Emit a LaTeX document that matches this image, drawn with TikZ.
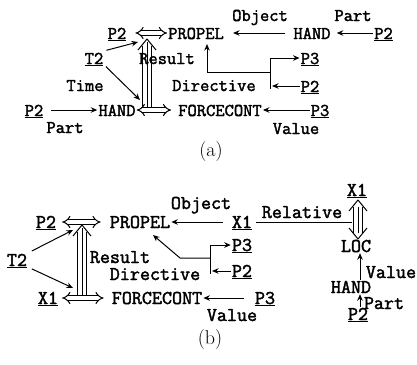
\documentclass[tikz,border=0pt]{standalone}
\usepackage{fontspec}
\newfontfamily\mytyfont{Latin Modern Mono}[FakeBold=2]
\usetikzlibrary{arrows.meta,backgrounds}
% triple-line causal arrow pieces
\newcommand\mytrishaft[4]{% x, y1, y2 (outer lines), y3 (centre line end)
  \draw[ln] (#1-4.5,#2) -- (#1-4.5,#3);
  \draw[ln] (#1+4.5,#2) -- (#1+4.5,#3);
  \draw[ln] (#1,#2) -- (#1,#4);}
\newcommand\mytrihead[3]{% x, ytip, direction (+1: tip points up)
  \draw[ln, line join=round] (#1-9,{#2+(#3)*11}) .. controls (#1-4,{#2+(#3)*5}) .. (#1,#2)
     .. controls (#1+4,{#2+(#3)*5}) .. (#1+9,{#2+(#3)*11});}
\begin{document}
\begin{tikzpicture}[x=1pt,y=-1pt,
 laba/.style={font=\mytyfont\fontsize{18}{20}\selectfont, inner sep=1pt, text height=12pt, text depth=0pt},
 labb/.style={font=\mytyfont\fontsize{19.5}{21}\selectfont, inner sep=1pt, text height=12pt, text depth=0pt},
 capt/.style={font=\fontsize{20}{22}\selectfont, inner sep=1pt},
 arr/.style={line width=1pt, -{Stealth[length=6.5pt,width=5.5pt]}},
 ln/.style={line width=1pt},
 dbl/.style={double, double distance=3.2pt, line width=1pt, {Implies[scale=1.4]}-{Implies[scale=1.4]}},
]
\useasboundingbox (0,0) rectangle (417,364);

% ---------------- (a) ----------------
\node[laba] (pa1) at (117,33) {\underline{P2}};
\node[laba] (propa) at (196,33) {PROPEL};
\node[laba] (obja) at (260,15) {Object};
\node[laba] (handa1) at (312,33) {HAND};
\node[laba] (parta1) at (353,15) {Part};
\node[laba] (pa2) at (383.5,33) {\underline{P2}};
\node[laba] (ta) at (94,58) {\underline{T2}};
\node[laba] (timea) at (85,85) {Time};
\node[laba] (resa) at (167,58) {Result};
\node[laba] (dira) at (214,85) {Directive};
\node[laba] (p3a1) at (310,58) {\underline{P3}};
\node[laba] (pa3) at (310,86) {\underline{P2}};
\node[laba] (pa4) at (34,110) {\underline{P2}};
\node[laba] (handa2) at (117,110) {HAND};
\node[laba] (parta2) at (65,127) {Part};
\node[laba] (forca) at (220,110) {FORCECONT};
\node[laba] (p3a2) at (320,110) {\underline{P3}};
\node[laba] (vala) at (296,128) {Value};
\node[capt] (capa) at (211,152) {(a)};

% ---------------- (b) ----------------
\node[labb] (pb1) at (46,222) {\underline{P2}};
\node[labb] (propb) at (140,222) {PROPEL};
\node[labb] (objb) at (201,203) {Object};
\node[labb] (xb1) at (242,222) {\underline{X1}};
\node[labb] (relb) at (302,212) {Relative};
\node[labb] (xb2) at (357,190) {\underline{X1}};
\node[labb] (locb) at (356,246) {LOC};
\node[labb] (valb) at (391,272) {Value};
\node[labb] (handb) at (351,287) {HAND};
\node[labb] (partb) at (384,303) {Part};
\node[labb] (pb3) at (358,314) {\underline{P2}};
\node[labb] (tb) at (17,260) {\underline{T2}};
\node[labb] (resb) at (120,257) {Result};
\node[labb] (dirb) at (155,274) {Directive};
\node[labb] (p3b1) at (242,245) {\underline{P3}};
\node[labb] (pb2) at (242,271) {\underline{P2}};
\node[labb] (xb3) at (48,298) {\underline{X1}};
\node[labb] (forcb) at (157,298) {FORCECONT};
\node[labb] (p3b2) at (265,298) {\underline{P3}};
\node[labb] (valb2) at (232,315) {Value};
\node[capt] (capb) at (210,340) {(b)};

\coordinate (tat1) at (138,42);
\coordinate (tat2) at (140,100);
\coordinate (da1) at (207,44);
\coordinate (da2) at (207,72);
\coordinate (da3) at (270,72);
\coordinate (da4) at (270,58);
\coordinate (da5) at (270,89);

\coordinate (relend) at (352,222);
\coordinate (tbt1) at (73,230);
\coordinate (tbt2) at (73,288);
\coordinate (db1) at (153,235);
\coordinate (db2) at (180,258);
\coordinate (db3) at (210,258);
\coordinate (db4) at (210,245);
\coordinate (db5) at (210,274);

\begin{scope}[on background layer]
% (a)
\draw[dbl, shorten <=8pt] (pa1.east) -- (propa.west);
\draw[arr, shorten <=7pt, shorten >=8pt] (handa1.west) -- (propa.east);
\draw[arr, shorten >=5pt] (pa2.west) -- (handa1.east);
\draw[arr, shorten <=2pt] (ta.north east) -- (tat1);
\draw[arr, shorten <=2pt] (ta.south east) -- (tat2);
\mytrishaft{147}{107}{46}{42}
\mytrihead{147}{39}{1}
\draw[dbl, shorten >=6pt] (handa2.east) -- (forca.west);
\draw[arr] (da3) -- (da2) -- (da1);
\draw[ln] (da4) -- (da5);
\draw[arr] (da4) -- (p3a1.west);
\draw[arr, shorten >=2pt] (pa3.west) -- (pa3.west -| da5);
\draw[arr] (p3a2.west) -- (forca.east);
\draw[arr, shorten <=7pt] (pa4.east) -- (handa2.west);
% (b)
\draw[dbl, shorten <=5pt, shorten >=8pt] (pb1.east) -- (propb.west);
\draw[arr, shorten <=8pt] (xb1.west) -- (propb.east);
\draw[ln, shorten <=3pt] (xb1.east) -- (relend);
\mytrishaft{358}{207}{233}{233}
\mytrihead{358}{200}{1}
\mytrihead{358}{239}{-1}
\draw[arr] ([xshift=9pt]handb.north) -- ([xshift=4pt]locb.south);
\draw[arr] ([xshift=2pt]pb3.north) -- ([xshift=9pt]handb.south);
\draw[arr, shorten <=4pt] (tb.north east) -- (tbt1);
\draw[arr, shorten <=4pt] (tb.south east) -- (tbt2);
\mytrishaft{82}{296}{232}{228}
\mytrihead{82}{225}{1}
\draw[dbl, shorten <=3pt, shorten >=7pt] (xb3.east) -- (forcb.west);
\draw[arr] (db3) -- (db2) -- (db1);
\draw[ln] (db4) -- (db5);
\draw[arr] (db4) -- (p3b1.west);
\draw[arr, shorten >=2pt] (pb2.west) -- (pb2.west -| db5);
\draw[arr, shorten <=10pt] (p3b2.west) -- (forcb.east);
\end{scope}
\end{tikzpicture}
\end{document}
